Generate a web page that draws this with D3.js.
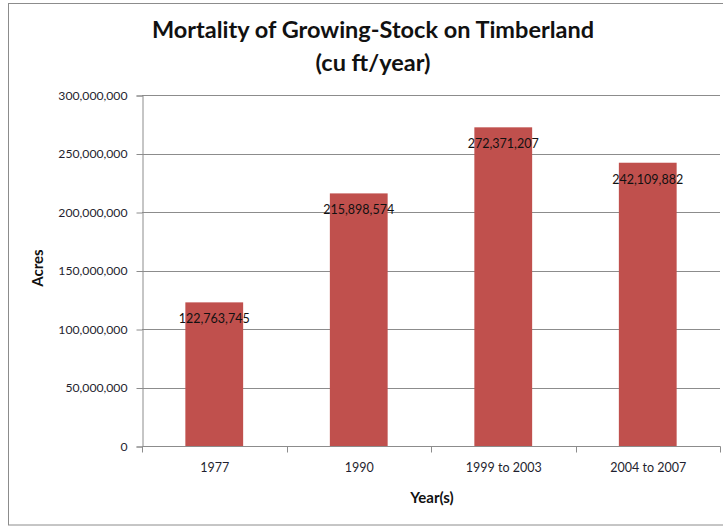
<!DOCTYPE html>
<html><head><meta charset="utf-8">
<script src="https://cdn.jsdelivr.net/npm/d3@7"></script>
<style>body{margin:0;background:#fff}svg{display:block}text{font-family:Lato,"Open Sans",sans-serif}</style>
</head><body>
<svg id="c" width="723" height="529"></svg>
<script>
const categories = ["1977","1990","1999 to 2003","2004 to 2007"];
const values = [122763745, 215898574, 272371207, 242109882];
const yTicks = [0,50000000,100000000,150000000,200000000,250000000,300000000];

const svg = d3.select("#c");
svg.append("rect").attr("x",8.5).attr("y",3.5).attr("width",730).attr("height",521.5)
  .attr("fill","#fff").attr("stroke","#8c8c8c").attr("stroke-width",1);

const m = {l:142, r:720, t:95, b:446};
const x = d3.scaleBand().domain(categories).range([m.l,m.r]).paddingInner(0.6).paddingOuter(0.3);
const y = d3.scaleLinear().domain([0,300000000]).range([m.b,m.t]);
const fmt = d3.format(",");

// gridlines
svg.append("g").selectAll("line").data(yTicks.slice(1)).join("line")
  .attr("x1",m.l).attr("x2",m.r).attr("y1",d=>Math.round(y(d))+0.5).attr("y2",d=>Math.round(y(d))+0.5)
  .attr("stroke","#8c8c8c").attr("stroke-width",1);

// bars
svg.append("g").selectAll("rect").data(values).join("rect")
  .attr("x",(d,i)=>x(categories[i])).attr("width",x.bandwidth())
  .attr("y",d=>y(d)).attr("height",d=>m.b-y(d))
  .attr("fill","#C0504D");

// y axis
const ya = svg.append("g").attr("transform",`translate(${m.l+0.5},0.5)`)
  .call(d3.axisLeft(y).tickValues(yTicks).tickFormat(fmt).tickSize(6).tickPadding(9));
ya.select(".domain").attr("stroke","#8c8c8c");
ya.selectAll(".tick line").attr("stroke","#8c8c8c");
ya.selectAll(".tick text").attr("font-size",12.2).attr("fill","#1f1f2f");

// x axis
const xa = svg.append("g").attr("transform",`translate(0.5,${m.b+0.5})`)
  .call(d3.axisBottom(x).tickSize(0).tickPadding(17));
xa.select(".domain").attr("stroke","#8c8c8c").attr("d",`M${m.l},0H${m.r}`);
xa.selectAll(".tick text").attr("font-size",12.5).attr("fill","#1f1f2f");
const bounds = d3.range(categories.length+1).map(i=>m.l + i*(m.r-m.l)/categories.length);
xa.append("g").selectAll("line").data(bounds).join("line")
  .attr("x1",d=>Math.round(d)).attr("x2",d=>Math.round(d)).attr("y1",0).attr("y2",6)
  .attr("stroke","#8c8c8c");

// data labels
svg.append("g").selectAll("text").data(values).join("text")
  .attr("x",(d,i)=>x(categories[i])+x.bandwidth()/2).attr("y",d=>y(d)+21)
  .attr("text-anchor","middle").attr("font-size",12.5).attr("fill","#111")
  .text(d=>fmt(d));

// titles
svg.append("text").attr("x",373).attr("y",38).attr("text-anchor","middle")
  .attr("font-size",23.5).attr("font-weight","bold").attr("fill","#111")
  .text("Mortality of Growing-Stock on Timberland");
svg.append("text").attr("x",373).attr("y",71).attr("text-anchor","middle")
  .attr("font-size",23.5).attr("font-weight","bold").attr("fill","#111")
  .text("(cu ft/year)");
svg.append("text").attr("transform","translate(43,268) rotate(-90)").attr("text-anchor","middle")
  .attr("font-size",15).attr("font-weight","bold").attr("fill","#111").text("Acres");
svg.append("text").attr("x",432).attr("y",503).attr("text-anchor","middle")
  .attr("font-size",15).attr("font-weight","bold").attr("fill","#111").text("Year(s)");
</script>
</body></html>
